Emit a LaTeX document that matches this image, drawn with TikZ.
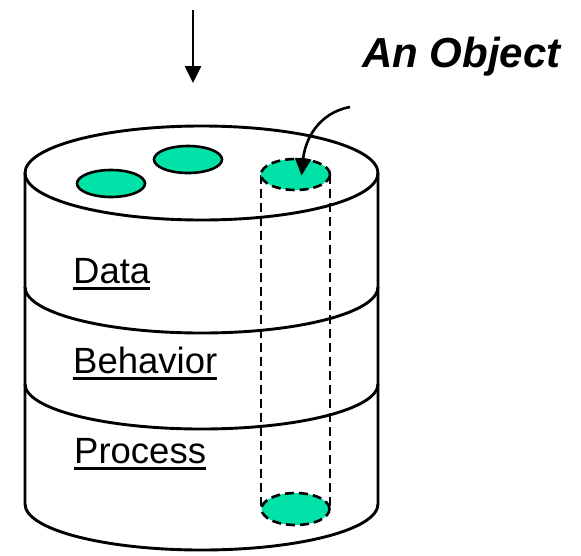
\documentclass[tikz,border=0pt]{standalone}
\usepackage{fontspec}
\setmainfont{Liberation Sans}
\usetikzlibrary{shapes.geometric,arrows.meta}
\definecolor{objteal}{RGB}{0,226,168}
% underlined label word: thick rule a few points under the baseline
\newcommand\ulword[1]{\setbox0\hbox{#1}\rlap{\rule[-6.5pt]{\wd0}{2.8pt}}\box0}
\begin{document}
\begin{tikzpicture}[x=1pt,y=-1pt,
  cyl/.style={line width=2.9pt},
  objdot/.style={ellipse, draw, line width=2.6pt, fill=objteal, inner sep=0pt},
  ghost/.style={line width=2.6pt, dash pattern=on 9pt off 5pt},
  label/.style={anchor=base west, inner sep=0pt, font=\fontsize{36.5}{40}\selectfont},
  pointer/.style={line width=2.6pt, -{Triangle[length=17pt,width=16pt]}}]
\useasboundingbox (0,0) rectangle (581,555);

% cylinder body and top face
\draw[cyl, fill=white] (25,173) -- (25,504)
  arc[start angle=180, end angle=0, x radius=176.5, y radius=46] -- (378,173);
\draw[cyl] (201.5,173) ellipse [x radius=176.5, y radius=47];
% layer boundaries
\draw[cyl] (25,287) arc[start angle=180, end angle=0, x radius=176.5, y radius=46];
\draw[cyl] (25,384) arc[start angle=180, end angle=0, x radius=176.5, y radius=45];

% the object column running through all layers
\draw[ghost] (261,175) -- (261,509);
\draw[ghost] (330,175) -- (330,509);
\node[objdot, ghost, minimum width=69pt, minimum height=31pt] (objtop) at (295.5,174.5) {};
\node[objdot, ghost, minimum width=68pt, minimum height=32pt] (objbot) at (295.5,509) {};

% other objects on the top face
\node[objdot, minimum width=68pt, minimum height=27pt] (dotA) at (111,183.5) {};
\node[objdot, minimum width=68pt, minimum height=27pt] (dotB) at (188,159.5) {};

% layer labels
\node[label] (data) at (73,283) {\ulword{Data}};
\node[label] (behav) at (73,373) {\ulword{Behavior}};
\node[label] (proc) at (74,463) {\ulword{Process}};

% caption
\node[anchor=base west, inner sep=0pt, font=\fontsize{42}{46}\selectfont\bfseries\itshape] (cap) at (362,67) {An Object};

% arrows
\coordinate (inflow) at (193,10);
\coordinate (inend) at (193,83);
\draw[pointer] (inflow) -- (inend);
\coordinate (capfoot) at (350,107);
\draw[pointer] (capfoot) .. controls (318,113) and (305,140) .. ([xshift=6pt,yshift=-1pt]objtop.center);
\end{tikzpicture}
\end{document}
